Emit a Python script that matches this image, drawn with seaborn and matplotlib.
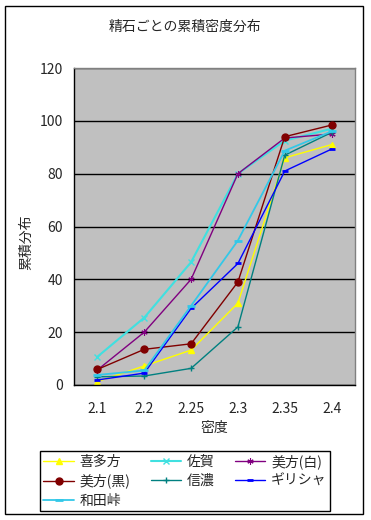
import pandas as pd
import matplotlib.pyplot as plt
import matplotlib.patches as patches
from matplotlib.ticker import FixedLocator
import seaborn as sns

# values
density = ["2.1", "2.2", "2.25", "2.3", "2.35", "2.4"]
kitakata = [1.3, 7.2, 13.2, 31, 86, 91]
saga = [10.7, 25.5, 46.5, 80, 92.5, 97]
mikata_w = [5.7, 20, 40, 80, 93.5, 95]
mikata_b = [5.9, 13.5, 15.6, 39, 94, 98.4]
shinano = [3.1, 3.4, 6.3, 22, 87, 95.6]
greece = [1.9, 4.5, 29, 46, 81, 89.3]
wadatoge = [3.8, 5.5, 30, 54.7, 88.7, 96]

names = ["喜多方", "佐賀", "美方(白)", "美方(黒)", "信濃", "ギリシャ", "和田峠"]
values = [kitakata, saga, mikata_w, mikata_b, shinano, greece, wadatoge]

styles = {
    "喜多方": dict(color="#FFFF00", marker="^", markersize=5, lw=1, mew=1),
    "佐賀": dict(color="#40E0E0", marker="x", markersize=4, lw=1.5, mew=1),
    "美方(白)": dict(color="#800080", marker=(6, 2, 0), markersize=4.5, lw=1, mew=0.8),
    "美方(黒)": dict(color="#800000", marker="o", markersize=5, lw=1, mew=1),
    "信濃": dict(color="#008080", marker="+", markersize=5, lw=1, mew=1),
    "ギリシャ": dict(color="#0000FF", marker="_", markersize=4, lw=1, mew=2),
    "和田峠": dict(color="#33C8E8", marker="_", markersize=6, lw=1.3, mew=2),
}

sns.set_style("white")
plt.rcParams["font.family"] = ["Noto Sans CJK JP", "DejaVu Sans"]

fig = plt.figure(figsize=(3.71, 5.2), dpi=100)
ax = fig.add_axes([74 / 371, 1 - 385 / 520, 281 / 371, 317 / 520])
ax.set_facecolor("#C0C0C0")

for name, vals in zip(names, values):
    df = pd.DataFrame({"密度": density, "累積分布": vals})
    st = styles[name]
    sns.lineplot(data=df, x="密度", y="累積分布", sort=False, ax=ax,
                 color=st["color"], marker=st["marker"], markersize=st["markersize"],
                 linewidth=st["lw"], markeredgecolor=st["color"],
                 markeredgewidth=st["mew"], label=name)

ax.set_xlim(-0.5, 5.5)
ax.set_ylim(0, 120)
ax.set_yticks(range(0, 121, 20))
ax.yaxis.grid(True, color="black", lw=1)
ax.set_axisbelow(True)
ax.xaxis.set_minor_locator(FixedLocator([i - 0.5 for i in range(7)]))
ax.tick_params(axis="x", which="major", length=0, pad=12, labelsize=10)
ax.tick_params(axis="x", which="minor", length=4, color="black", direction="out")
ax.tick_params(axis="y", length=4, color="black", direction="out", labelsize=10, pad=4)

for side in ["left", "bottom"]:
    ax.spines[side].set_color("black")
    ax.spines[side].set_linewidth(1)
for side in ["top", "right"]:
    ax.spines[side].set_color("#808080")
    ax.spines[side].set_linewidth(1)

ax.set_xlabel("密度", fontsize=10, labelpad=4)
ax.set_ylabel("累積分布", fontsize=10)
ax.yaxis.set_label_coords(-0.145, 0.45)

fig.text(185 / 371, 1 - 27 / 520, "精石ごとの累積密度分布", ha="center", va="center", fontsize=10)

# legend: row-wise order in 3 columns
handles, labels = ax.get_legend_handles_labels()
ax.get_legend().remove()
order = ["喜多方", "美方(黒)", "和田峠", "佐賀", "信濃", "美方(白)", "ギリシャ"]
hmap = dict(zip(labels, handles))
leg = fig.legend([hmap[n] for n in order], order, ncol=3,
                 loc="lower left", bbox_to_anchor=(40 / 371, 1 - 511 / 520, 290 / 371, 61 / 520),
                 mode="expand", borderaxespad=0, fancybox=False, framealpha=1,
                 edgecolor="black", fontsize=10, handlelength=2.2, handletextpad=0.4,
                 labelspacing=0.35, columnspacing=0.6, borderpad=0.25)
leg.get_frame().set_linewidth(1)

# outer chart border
fig.patches.append(patches.Rectangle((5 / 371, 6 / 520), 358 / 371, 508 / 520,
                                     transform=fig.transFigure, fill=False,
                                     edgecolor="black", lw=1))

fig.savefig("out.png", dpi=100)
